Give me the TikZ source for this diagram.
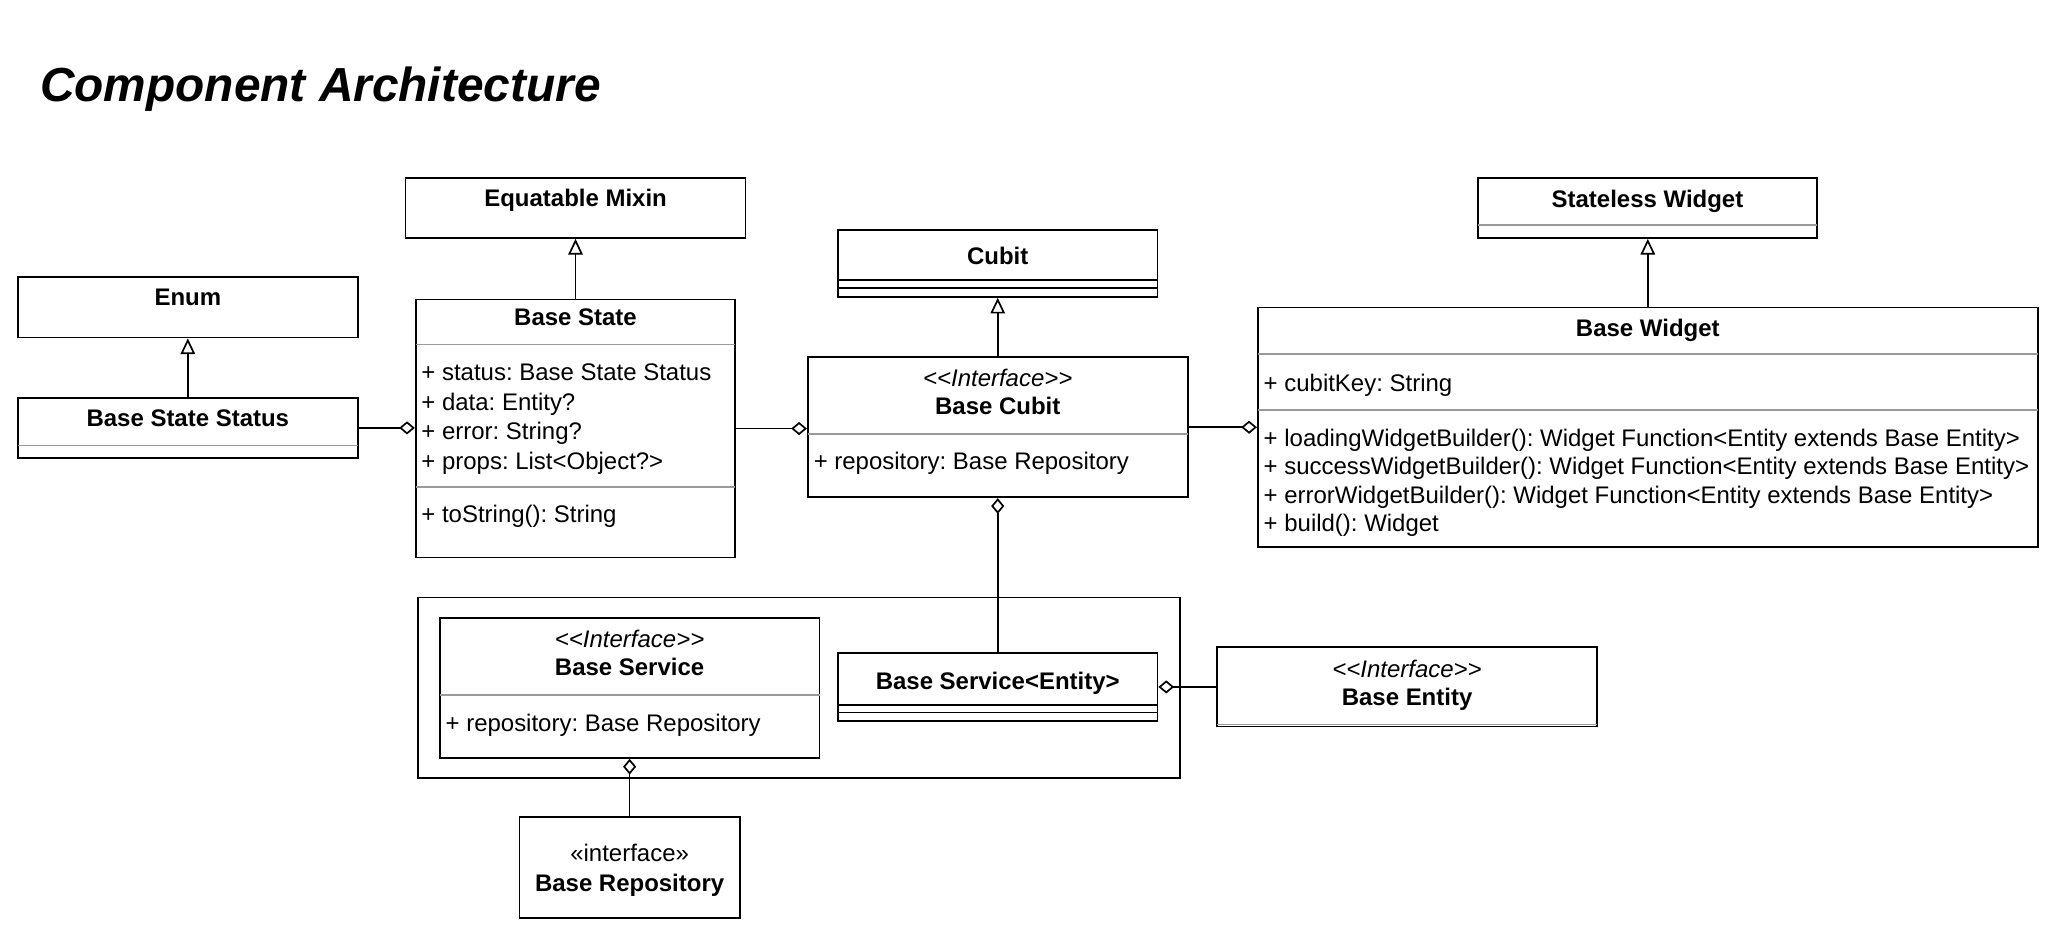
\documentclass[tikz,border=0pt]{standalone}
\usepackage{fontspec}
\setmainfont{Liberation Sans}
\usetikzlibrary{arrows.meta,calc}
\frenchspacing

\begin{document}
\begin{tikzpicture}[x=1pt,y=-1pt,
		font=\fontsize{18.3}{22}\selectfont,
		box/.style={draw,line width=1.3pt,anchor=north west,inner sep=0pt},
		txt/.style={inner sep=0pt,text height=13.1pt,text depth=0pt},
		cname/.style={txt,font=\fontsize{18.3}{22}\selectfont\bfseries},
		stereo/.style={txt,font=\fontsize{18.3}{22}\selectfont\itshape},
		member/.style={txt,anchor=west},
		sep/.style={draw=black!40,line width=1.3pt},
		bar/.style={draw,line width=1.3pt},
		inherit/.style={line width=1.3pt,-{Triangle[open,length=12pt,width=11pt]}},
		aggr/.style={line width=1.3pt,-{Diamond[open,length=12pt,width=10pt]}}]
			\useasboundingbox (0,0) rectangle (1568,714.4);
			\node[anchor=base west,inner sep=0pt,font=\fontsize{36.5}{44}\selectfont\bfseries\itshape] (title) at (30.5,77.6) {Component Architecture};
			\node[box,minimum width=259.5pt,minimum height=46pt] (mixin) at (309,135) {};
			\node[box,minimum width=259.5pt,minimum height=46pt] (enum) at (13,211) {};
			\node[box,minimum width=259.5pt,minimum height=46pt] (status) at (13,303) {};
			\node[box,minimum width=244pt,minimum height=197pt] (bstate) at (316.7,228) {};
			\node[box,minimum width=244pt,minimum height=51pt] (cubit) at (639,175) {};
			\node[box,minimum width=290pt,minimum height=107pt] (bcubit) at (616,272) {};
			\node[box,minimum width=259pt,minimum height=46pt] (stateless) at (1127.5,135) {};
			\node[box,minimum width=595.5pt,minimum height=183pt] (bwidget) at (959.5,234) {};
			\node[box,minimum width=581.5pt,minimum height=137.5pt] (frame) at (318.5,455.5) {};
			\node[box,minimum width=290pt,minimum height=107pt] (bservice) at (335,471) {};
			\node[box,minimum width=244pt,minimum height=52pt] (bse) at (639,498) {};
			\node[box,minimum width=290pt,minimum height=60.5pt] (bentity) at (928.5,493.5) {};
			\node[box,minimum width=168pt,minimum height=77pt] (repo) at (396,623) {};
			\foreach \n/\d in {status/37,bstate/35,bstate/143.5,bcubit/59.5,stateless/37,bwidget/36.5,bwidget/79,bservice/59.5,bentity/59.5}{
				\draw[sep] ($(\n.north west)+(0.7,\d)$) -- ($(\n.north east)+(-0.7,\d)$);
			}
			\foreach \n/\d in {cubit/39,cubit/45,bse/40,bse/46}{
				\draw[bar] ($(\n.north west)+(0,\d)$) -- ($(\n.north east)+(0,\d)$);
			}
			\node[cname] at (mixin.north |- 0,151) {Equatable Mixin};
			\node[cname] at (enum.north |- 0,227) {Enum};
			\node[cname] at (status.north |- 0,319) {Base State Status};
			\node[cname] at (bstate.north |- 0,242) {Base State};
			\node[member] at (321.5,284) {+ status: Base State Status};
			\node[member] at (321.5,307) {+ data: Entity?};
			\node[member] at (321.5,329) {+ error: String?};
			\node[member] at (321.5,352) {+ props: List<Object?>};
			\node[member] at (321.5,392) {+ toString(): String};
			\node[cname] at (cubit.north |- 0,195) {Cubit};
			\node[stereo] at (bcubit.north |- 0,288.5) {<{}<Interface>{}>};
			\node[cname] at (bcubit.north |- 0,309.5) {Base Cubit};
			\node[member] at (621,352) {+ repository: Base Repository};
			\node[cname] at (stateless.north |- 0,151.5) {Stateless Widget};
			\node[cname] at (bwidget.north |- 0,250) {Base Widget};
			\node[member] at (964.5,292) {+ cubitKey: String};
			\node[member] at (964.5,334.5) {+ loadingWidgetBuilder(): Widget Function<Entity extends Base Entity>};
			\node[member] at (964.5,356) {+ successWidgetBuilder(): Widget Function<Entity extends Base Entity>};
			\node[member] at (964.5,377.5) {+ errorWidgetBuilder(): Widget Function<Entity extends Base Entity>};
			\node[member] at (964.5,399.5) {+ build(): Widget};
			\node[stereo] at (bservice.north |- 0,488) {<{}<Interface>{}>};
			\node[cname] at (bservice.north |- 0,509) {Base Service};
			\node[member] at (340,552) {+ repository: Base Repository};
			\node[cname] at (bse.north |- 0,520) {Base Service<Entity>};
			\node[stereo] at (bentity.north |- 0,511) {<{}<Interface>{}>};
			\node[cname] at (bentity.north |- 0,532) {Base Entity};
			\node[txt] at (repo.north |- 0,651) {«interface»};
			\node[cname] at (repo.north |- 0,674) {Base Repository};
			\draw[inherit] (status.north) -- (status.north |- enum.south);
			\draw[inherit] (bstate.north) -- (bstate.north |- mixin.south);
			\draw[inherit] (bcubit.north) -- (bcubit.north |- cubit.south);
			\draw[inherit] (bwidget.north) -- (bwidget.north |- stateless.south);
			\draw[aggr] (status.east) -- (status.east -| bstate.west);
			\draw[aggr] (bstate.east) -- (bstate.east -| bcubit.west);
			\draw[aggr] (bcubit.east) -- (bcubit.east -| bwidget.west);
			\draw[aggr] (bse.north) -- (bse.north |- bcubit.south);
			\draw[aggr] (bentity.west) -- (bentity.west -| bse.east);
			\draw[aggr] (repo.north) -- (repo.north |- bservice.south);
		\end{tikzpicture}
\end{document}
